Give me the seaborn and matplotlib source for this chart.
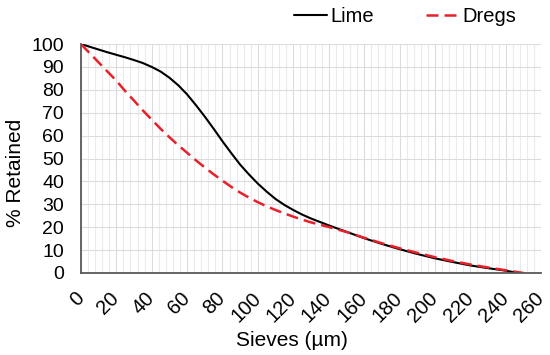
import pandas as pd
import matplotlib.pyplot as plt
from matplotlib.ticker import MultipleLocator
import seaborn as sns

# values
lime_x = [0, 5, 10, 15, 20, 25, 30, 35, 40, 45, 50, 55, 60, 65, 70, 75, 80, 85, 90, 95,
          100, 105, 110, 115, 120, 125, 130, 135, 140, 150, 160, 170, 180, 190, 200,
          210, 220, 230, 240, 247]
lime_y = [100, 98.8, 97.6, 96.4, 95.3, 94.2, 93, 91.7, 90, 88, 85.3, 82, 78, 73.3, 68.3,
          63, 57.5, 52.3, 47.3, 43, 39, 35.5, 32.3, 29.7, 27.5, 25.5, 23.8, 22.3, 20.8,
          18, 15.2, 12.7, 10.4, 8.3, 6.4, 4.8, 3.3, 2.1, 1, 0]
dregs_x = [0, 5, 10, 15, 20, 25, 30, 35, 40, 45, 50, 55, 60, 65, 70, 75, 80, 85, 90, 95,
           100, 105, 110, 115, 120, 125, 130, 135, 140, 145, 150, 160, 170, 180, 190,
           200, 210, 220, 230, 240, 250]
dregs_y = [100, 96, 92, 88, 84, 79.5, 75.3, 71, 67, 63, 59.3, 55.8, 52.5, 49.2, 46.1,
           43.1, 40.3, 37.6, 35.1, 32.9, 30.9, 29.1, 27.5, 26, 24.6, 23.3, 22.1, 21.1,
           20.1, 19, 17.9, 15.4, 13, 10.8, 8.8, 6.9, 5.2, 3.7, 2.4, 1.2, 0]

sns.set_style("white")
plt.rcParams['font.family'] = ['Liberation Sans', 'DejaVu Sans']
plt.rcParams['text.color'] = 'black'
plt.rcParams['axes.labelcolor'] = 'black'

lime_df = pd.DataFrame({'Sieve': lime_x, 'Retained': lime_y})
dregs_df = pd.DataFrame({'Sieve': dregs_x, 'Retained': dregs_y})

fig = plt.figure(figsize=(5.5, 3.55), dpi=100)
ax = fig.add_axes([0.147, 0.231, 0.837, 0.645])

sns.lineplot(data=lime_df, x='Sieve', y='Retained', ax=ax, color='black',
             linewidth=1.5, label='Lime')
sns.lineplot(data=dregs_df, x='Sieve', y='Retained', ax=ax, color='#e8202a',
             linewidth=1.8, label='Dregs')
ax.lines[1].set_dashes([4.8, 2.4])

ax.set_xlim(0, 260)
ax.set_ylim(0, 100)
ax.xaxis.set_major_locator(MultipleLocator(20))
ax.xaxis.set_minor_locator(MultipleLocator(4))
ax.yaxis.set_major_locator(MultipleLocator(10))

ax.grid(which='major', axis='both', color='#dcdcdc', linewidth=0.8)
ax.grid(which='minor', axis='x', color='#ebebeb', linewidth=0.8)
ax.set_axisbelow(True)

for s in ['top', 'right']:
    ax.spines[s].set_visible(False)
for s in ['left', 'bottom']:
    ax.spines[s].set_color('#595959')
    ax.spines[s].set_linewidth(1.3)

ax.tick_params(axis='x', which='major', direction='out', length=5, width=1.2,
               color='#595959', labelcolor='black', labelsize=14.5, pad=11)
ax.tick_params(axis='x', which='minor', length=0)
ax.tick_params(axis='y', which='major', direction='in', length=4, width=1,
               color='#595959', labelcolor='black', labelsize=14, pad=12)
plt.setp(ax.get_xticklabels(), rotation=45, ha='right', va='center',
         rotation_mode='anchor')

ax.set_xlabel('Sieves (µm)', fontsize=15)
ax.set_ylabel('% Retained', fontsize=15)
ax.xaxis.set_label_coords(0.459, -0.255)
ax.yaxis.set_label_coords(-0.122, 0.437)

ax.legend(loc='upper right', bbox_to_anchor=(0.972, 1.03), bbox_transform=fig.transFigure,
          ncol=2, frameon=False, fontsize=14.5, handlelength=1.65, handletextpad=0.15,
          columnspacing=2.6)

fig.savefig('out.png', dpi=100)
